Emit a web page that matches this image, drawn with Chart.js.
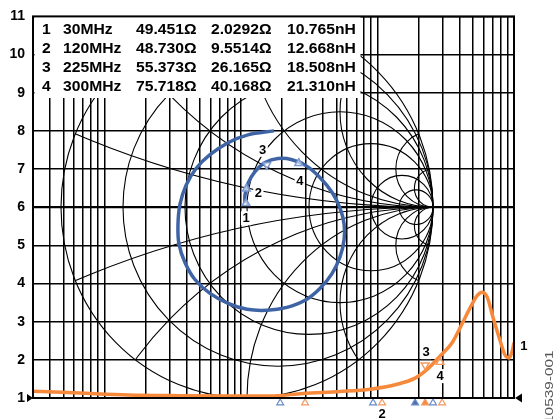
<!DOCTYPE html>
<html>
<head>
<meta charset="utf-8">
<script src="https://cdn.jsdelivr.net/npm/chart.js@4.4.1/dist/chart.umd.min.js"></script>
<style>
  html, body { margin: 0; padding: 0; background: #fff; }
</style>
</head>
<body>
<canvas id="chart" width="554" height="419"></canvas>
<script>
const FONT = '"Liberation Sans", Arial, sans-serif';
const BLUE = '#3f64a6';
const ORANGE = '#f7893b';

// y axis tick labels
const yTicks = [1, 2, 3, 4, 5, 6, 7, 8, 9, 10, 11];
// log grid on the x axis, 3 .. 10000
const gridDecades = [1, 10, 100, 1000];
const gridTicks = [];
for (const d of gridDecades) {
  for (let m = 1; m <= 9; m++) if (m * d >= 3) gridTicks.push(m * d);
}
gridTicks.push(10000);

// marker table
const markerNo = [1, 2, 3, 4];
const markerMHz = [30, 120, 225, 300];
const markerR = [49.451, 48.730, 55.373, 75.718];
const markerX = [2.0292, 9.5514, 26.165, 40.168];
const markerL = [10.765, 12.668, 18.508, 21.310];
const Z0 = 50;

// smith chart grid
const smithR = [0, 0.2, 0.5, 1, 2, 5, 10];
const smithX = [0.2, 0.5, 1, 2, 5, 10];

// blue trace, reflection coefficient
const blueRe = [-0.011, -0.011, 0.005, 0.043, 0.097, 0.167, 0.242, 0.317, 0.392, 0.457, 0.500, 0.522,
  0.522, 0.500, 0.457, 0.392, 0.312, 0.215, 0.108, 0.000, -0.102, -0.199, -0.280, -0.333, -0.366,
  -0.371, -0.360, -0.328, -0.274, -0.199, -0.102, 0.005, 0.145];
const blueIm = [0.021, 0.062, 0.125, 0.187, 0.234, 0.255, 0.249, 0.218, 0.156, 0.078, -0.005, -0.088,
  -0.171, -0.260, -0.348, -0.426, -0.488, -0.525, -0.540, -0.535, -0.504, -0.452, -0.379, -0.291, -0.192,
  -0.088, 0.016, 0.114, 0.203, 0.275, 0.338, 0.379, 0.400];

// orange trace
const orangeX = [3, 6.6, 15, 36, 83, 163, 285, 533, 884, 1393, 1887, 2310, 2877, 3522, 4170, 4767,
  5370, 5838, 6354, 7031, 7911, 8610, 9210, 9685, 9990];
const orangeY = [1.18, 1.13, 1.08, 1.06, 1.05, 1.05, 1.12, 1.17, 1.23, 1.36, 1.52, 1.75, 2.1, 2.45,
  2.95, 3.36, 3.68, 3.77, 3.65, 3.1, 2.5, 2.12, 2.05, 2.22, 2.45];
const orangeMarkX = [2235, 2877];
const orangeMarkY = [1.86, 1.94];

// marker positions under the axis
const blueTickX = [194, 929, 1887, 2553];
const orangeTickX = [295, 1081, 2235, 2976];
const tickRowY = 0.87;

function gamma(r, x) {
  const a = r / Z0, b = x / Z0;
  const den = (a + 1) * (a + 1) + b * b;
  return { x: (a * a + b * b - 1) / den, y: 2 * b / den };
}

function tag(ctx, text, x, y) {
  ctx.font = 'bold 13px ' + FONT;
  const w = ctx.measureText(text).width + 3;
  ctx.fillStyle = '#fff';
  ctx.fillRect(x - w / 2, y - 7, w, 14);
  ctx.fillStyle = '#000';
  ctx.textAlign = 'center';
  ctx.textBaseline = 'middle';
  ctx.fillText(text, x, y + 0.5);
}

function tri(ctx, x, y, w, h, dir) {
  ctx.beginPath();
  if (dir > 0) { ctx.moveTo(x, y); ctx.lineTo(x - w, y - h / 2); ctx.lineTo(x - w, y + h / 2); }
  else { ctx.moveTo(x, y); ctx.lineTo(x + w, y - h / 2); ctx.lineTo(x + w, y + h / 2); }
  ctx.closePath();
  ctx.fill();
}

const smithGrid = {
  id: 'smithGrid',
  beforeDatasetsDraw(chart) {
    const { ctx, chartArea: a, scales: { xg, yg } } = chart;
    const px = v => xg.getPixelForValue(v), py = v => yg.getPixelForValue(v);
    const rx = px(1) - px(0), ry = py(0) - py(1);
    ctx.save();
    ctx.beginPath();
    ctx.rect(a.left, a.top, a.width, a.height);
    ctx.clip();
    ctx.strokeStyle = '#000';
    ctx.lineWidth = 1.1;
    for (const r of smithR) {
      const c = r / (1 + r), k = 1 / (1 + r);
      ctx.beginPath();
      ctx.ellipse(px(c), py(0), k * rx, k * ry, 0, 0, 2 * Math.PI);
      ctx.stroke();
    }
    ctx.beginPath();
    ctx.ellipse(px(0), py(0), rx, ry, 0, 0, 2 * Math.PI);
    ctx.clip();
    for (const x of smithX) {
      for (const s of [1, -1]) {
        const k = 1 / x;
        ctx.beginPath();
        ctx.ellipse(px(1), py(s * k), k * rx, k * ry, 0, 0, 2 * Math.PI);
        ctx.stroke();
      }
    }
    ctx.beginPath();
    ctx.moveTo(px(-1), py(0));
    ctx.lineTo(px(1), py(0));
    ctx.stroke();
    ctx.restore();
  }
};

const overlay = {
  id: 'overlay',
  afterDatasetsDraw(chart) {
    const { ctx, chartArea: a } = chart;
    ctx.save();

    // marker table
    ctx.fillStyle = '#fff';
    ctx.fillRect(a.left + 1.5, 17, 359 - a.left, 81);
    ctx.fillStyle = '#000';
    ctx.font = 'bold 14px ' + FONT;
    ctx.textAlign = 'left';
    ctx.textBaseline = 'alphabetic';
    const cols = [42, 63, 136, 211, 287];
    markerNo.forEach((n, i) => {
      const cells = [String(n), markerMHz[i] + 'MHz', markerR[i].toPrecision(5) + 'Ω',
        markerX[i].toPrecision(5) + 'Ω', markerL[i].toFixed(3) + 'nH'];
      const y = 33.5 + i * 19.2;
      cells.forEach((t, j) => {
        ctx.save();
        ctx.translate(cols[j], y);
        ctx.scale(1.12, 1);
        ctx.fillText(t, 0, 0);
        ctx.restore();
      });
    });

    // marker numbers
    const sm = chart.getDatasetMeta(2).data;
    const smOff = [[0, 15], [12, 4], [-4, -15], [1, 18]];
    sm.forEach((p, i) => tag(ctx, String(markerNo[i]), p.x + smOff[i][0], p.y + smOff[i][1]));
    const om = chart.getDatasetMeta(3).data;
    tag(ctx, '3', om[0].x + 1, om[0].y - 13);
    tag(ctx, '4', om[1].x, om[1].y + 14);
    const ot = chart.getDatasetMeta(0).data;
    const last = ot[ot.length - 1];
    tag(ctx, '1', last.x + 10, last.y + 3);
    const bt = chart.getDatasetMeta(5).data;
    tag(ctx, '2', bt[1].x, bt[1].y + 11);

    // frame
    ctx.strokeStyle = '#000';
    ctx.lineWidth = 2;
    ctx.strokeRect(a.left, a.top, a.width, a.height);

    // axis arrows
    ctx.fillStyle = '#000';
    tri(ctx, a.left, a.bottom, 6, 8, 1);
    tri(ctx, a.right + 1, a.bottom, 7, 9, -1);

    // figure number
    ctx.save();
    ctx.translate(550, 424);
    ctx.rotate(-Math.PI / 2);
    ctx.scale(1.4, 1);
    ctx.font = '11px ' + FONT;
    ctx.fillStyle = '#555';
    ctx.textAlign = 'left';
    ctx.textBaseline = 'middle';
    ctx.fillText('10539-001', 0, 0);
    ctx.restore();

    ctx.restore();
  }
};

const ctx = document.getElementById('chart').getContext('2d');
new Chart(ctx, {
  type: 'scatter',
  data: {
    datasets: [
      {
        data: orangeX.map((x, i) => ({ x, y: orangeY[i] })),
        xAxisID: 'x', yAxisID: 'y', order: 2,
        showLine: true, borderColor: ORANGE, borderWidth: 3.5,
        pointRadius: 0, cubicInterpolationMode: 'monotone'
      },
      {
        data: blueRe.map((x, i) => ({ x, y: blueIm[i] })),
        xAxisID: 'xg', yAxisID: 'yg', order: 2,
        showLine: true, borderColor: BLUE, borderWidth: 3.5,
        pointRadius: 0, tension: 0.35
      },
      {
        data: markerR.map((r, i) => gamma(r, markerX[i])),
        xAxisID: 'xg', yAxisID: 'yg', order: 1,
        pointStyle: 'triangle', pointRadius: 4.5,
        pointRotation: c => c.dataIndex === 2 ? 180 : 0,
        pointBorderColor: '#7b9ad4', pointBackgroundColor: 'rgba(255,255,255,0.6)', pointBorderWidth: 1.5
      },
      {
        data: orangeMarkX.map((x, i) => ({ x, y: orangeMarkY[i] })),
        xAxisID: 'x', yAxisID: 'y', order: 1,
        pointStyle: 'triangle', pointRadius: 4.5,
        pointRotation: c => c.dataIndex === 0 ? 180 : 0,
        pointBorderColor: '#f39a5d', pointBackgroundColor: 'rgba(255,255,255,0.6)', pointBorderWidth: 1.4
      },
      {
        data: blueTickX.map(x => ({ x, y: tickRowY })),
        xAxisID: 'x', yAxisID: 'y', clip: false, order: 1,
        pointStyle: 'triangle', pointRadius: 4,
        pointBorderColor: '#6a8cc8', pointBorderWidth: 1.2,
        pointBackgroundColor: c => c.dataIndex === 2 ? '#4f6fae' : 'rgba(255,255,255,0)'
      },
      {
        data: orangeTickX.map(x => ({ x, y: tickRowY })),
        xAxisID: 'x', yAxisID: 'y', clip: false, order: 1,
        pointStyle: 'triangle', pointRadius: 4,
        pointBorderColor: '#f59a60', pointBorderWidth: 1.2,
        pointBackgroundColor: c => c.dataIndex === 2 ? ORANGE : 'rgba(255,255,255,0)'
      }
    ]
  },
  options: {
    responsive: false,
    animation: false,
    events: [],
    layout: { padding: { top: 13, right: 40, bottom: 21, left: 0 } },
    plugins: { legend: { display: false }, tooltip: { enabled: false } },
    scales: {
      x: {
        type: 'logarithmic', min: 3, max: 10000, position: 'bottom',
        afterBuildTicks: s => { s.ticks = gridTicks.map(v => ({ value: v })); },
        ticks: { display: false },
        grid: { color: '#000', lineWidth: 1.5, drawTicks: false },
        border: { display: false },
        afterFit: s => { s.height = 0; }
      },
      y: {
        min: 1, max: 11, position: 'left',
        afterBuildTicks: s => { s.ticks = yTicks.map(v => ({ value: v })); },
        ticks: { color: '#000', padding: 8, font: { family: FONT, size: 14, weight: 'bold' } },
        grid: { color: '#000', lineWidth: c => (c.tick && c.tick.value === 6 ? 2.2 : 1.5), drawTicks: false },
        border: { display: false },
        afterFit: s => { s.width = 33; }
      },
      xg: { type: 'linear', axis: 'x', display: false, min: -1.1505, max: 1.4355 },
      yg: { type: 'linear', axis: 'y', display: false, min: -1, max: 1 }
    }
  },
  plugins: [smithGrid, overlay]
});
</script>
</body>
</html>
